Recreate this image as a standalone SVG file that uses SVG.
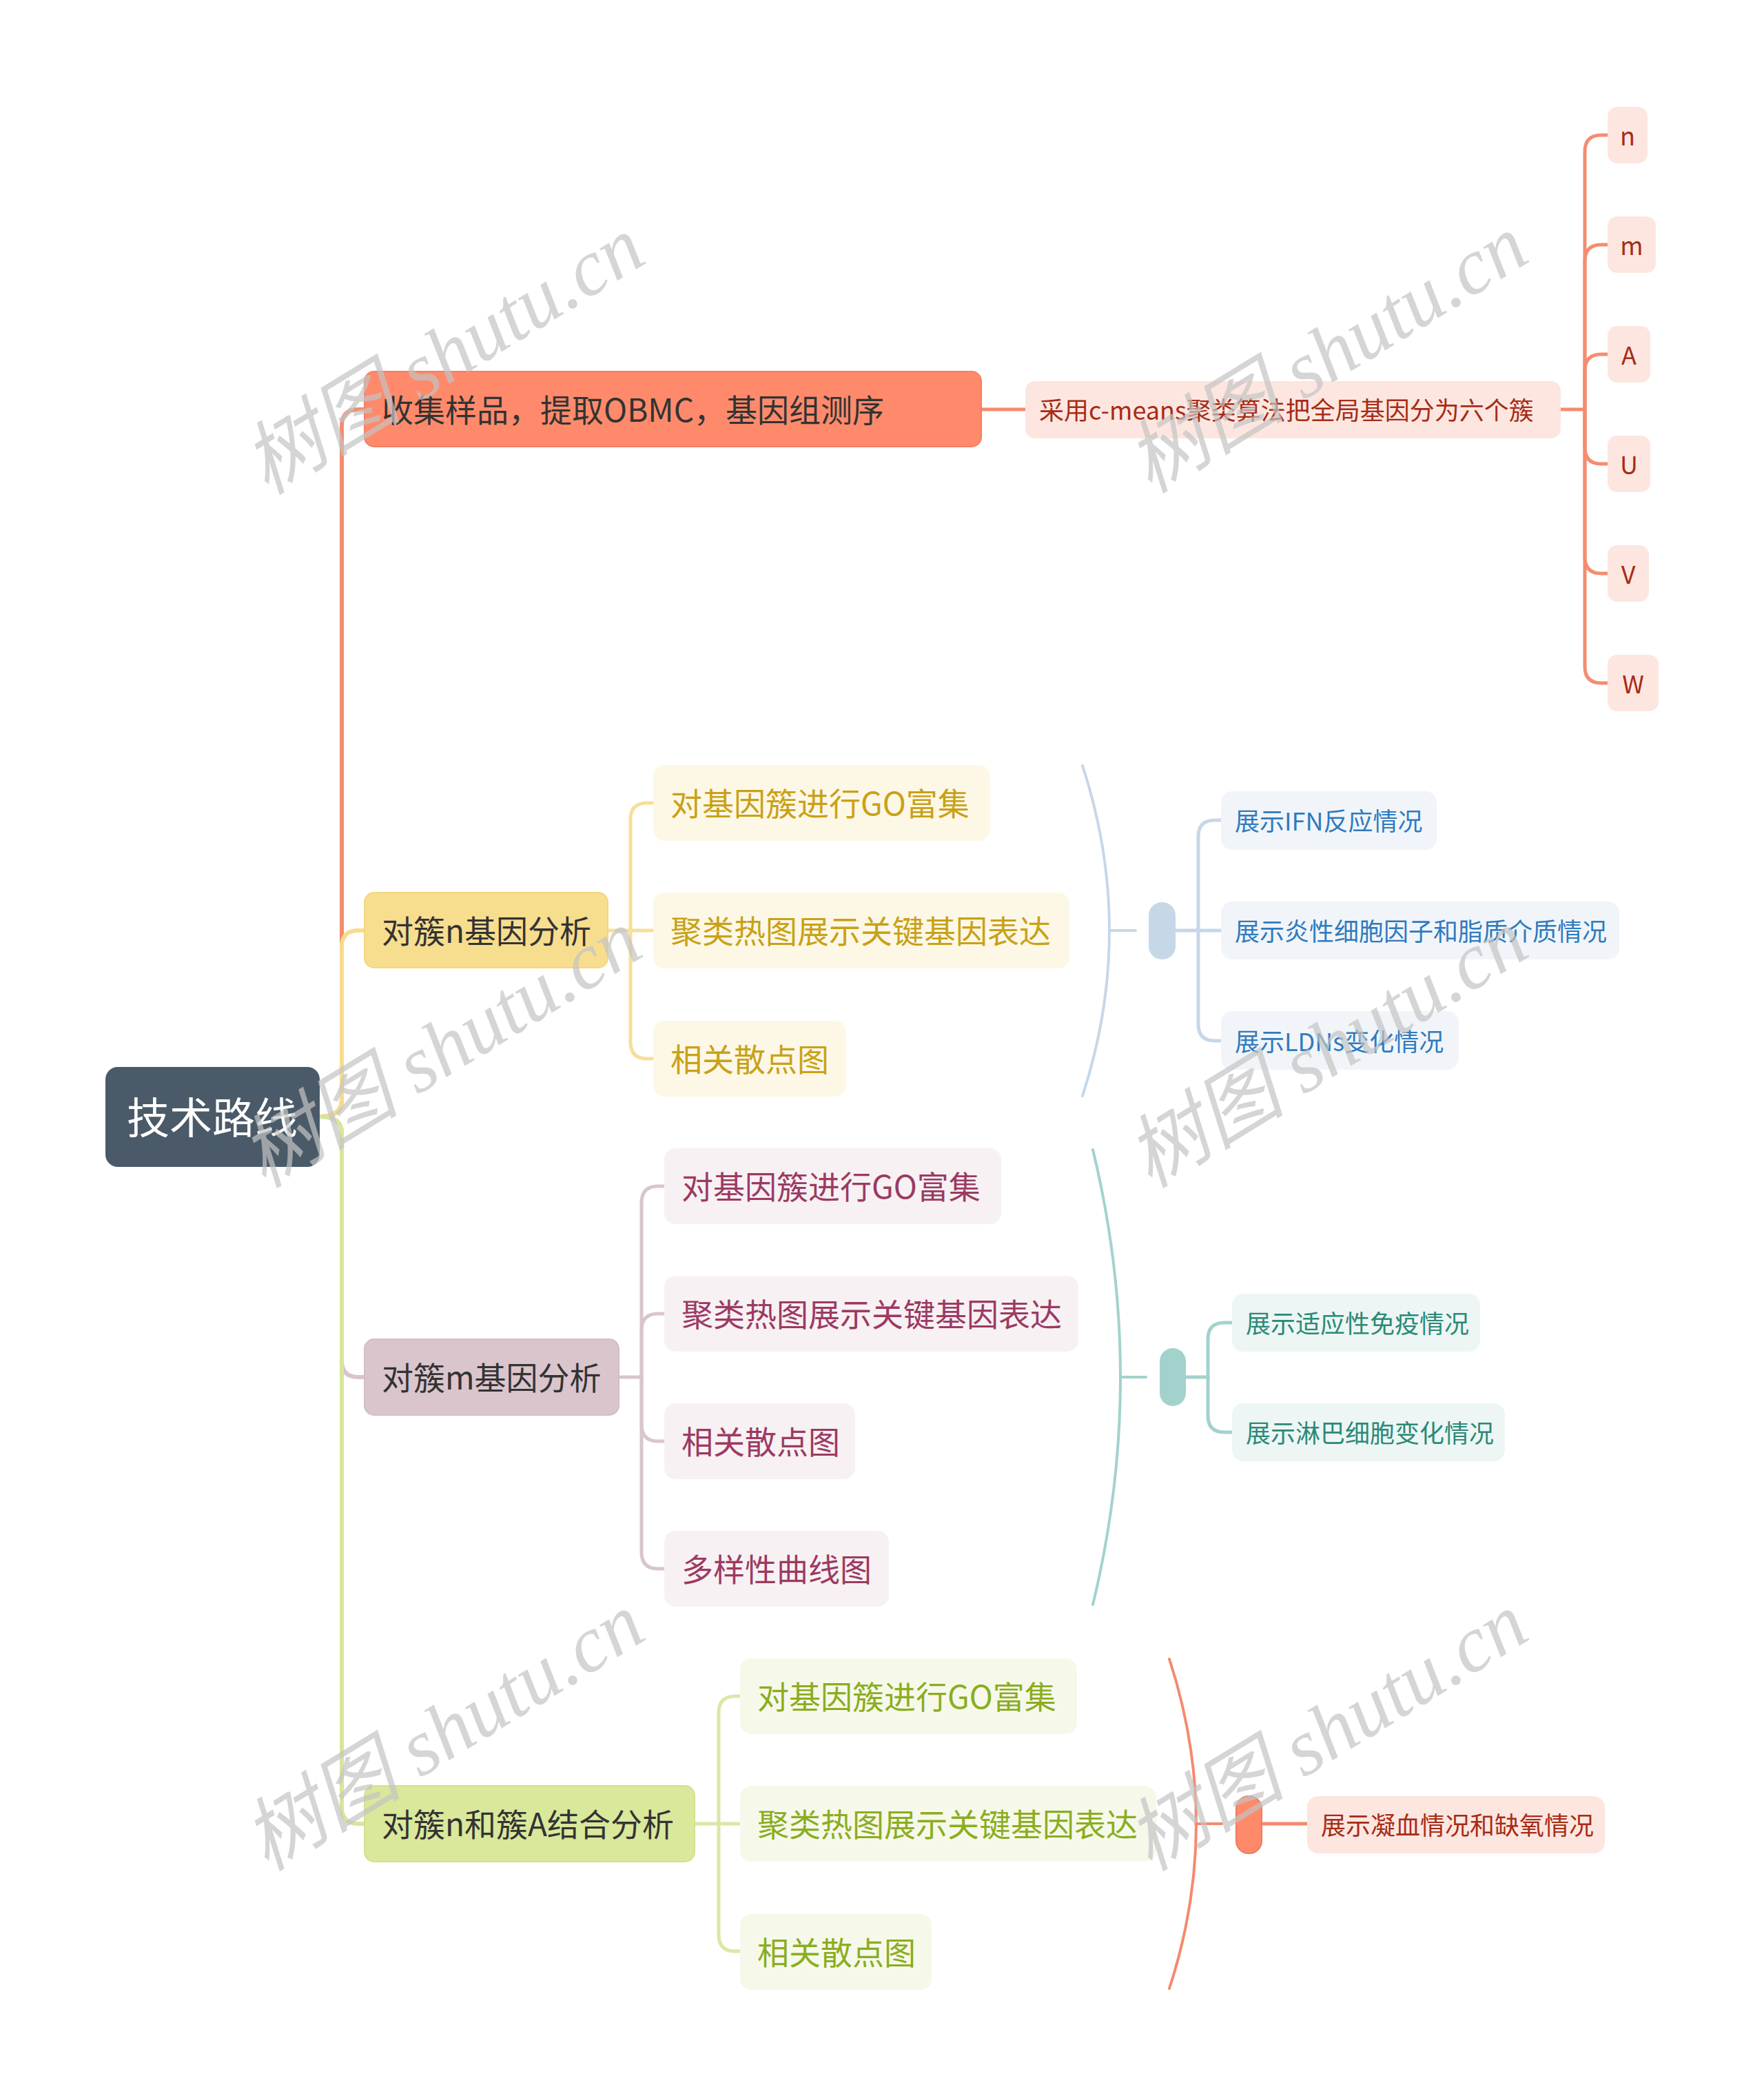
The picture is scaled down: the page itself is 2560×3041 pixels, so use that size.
<svg xmlns="http://www.w3.org/2000/svg" width="2560" height="3041" viewBox="0 0 2560 3041">
<style>
text{font-family:"Noto Sans CJK SC","Noto Sans",sans-serif;}
.l1{font-size:46px;fill:#333333;dominant-baseline:central;}
.l2{font-size:46px;dominant-baseline:central;}
.l3{font-size:36px;dominant-baseline:central;}
.c{fill:none;stroke-linecap:round;stroke-linejoin:round;}
.wm{font-family:"Liberation Serif","Noto Sans CJK SC",serif;font-style:italic;font-size:116px;fill:#c4c4c4;opacity:0.7;text-anchor:middle;dominant-baseline:central;}
</style>
<rect x="0" y="0" width="2560" height="3041" fill="#ffffff"/>

<g id="connectors">
  <path class="c" stroke="#f58c6f" stroke-width="6" d="M464 1620 Q496 1620 496 1596 V618 Q496 594 520 594 H529"/>
  <path class="c" stroke="#f7dc8e" stroke-width="6" d="M464 1620 Q496 1620 496 1596 V1374 Q496 1350 520 1350 H529"/>
  <path class="c" stroke="#d9c4cc" stroke-width="6" d="M464 1620 Q496 1620 496 1644 V1974 Q496 1998 520 1998 H529"/>
  <path class="c" stroke="#d6e69a" stroke-width="6" d="M464 1620 Q496 1620 496 1644 V2622 Q496 2646 520 2646 H529"/>
  <g stroke="#f58c6f" stroke-width="5" class="c">
    <path d="M1424 594 H1488"/>
    <path d="M2265 594 H2300"/>
    <path d="M2300 594 V220 Q2300 196 2324 196 H2333"/>
    <path d="M2300 594 V379 Q2300 355 2324 355 H2333"/>
    <path d="M2300 594 V538 Q2300 514 2324 514 H2333"/>
    <path d="M2300 594 V649 Q2300 673 2324 673 H2333"/>
    <path d="M2300 594 V808 Q2300 832 2324 832 H2333"/>
    <path d="M2300 594 V967 Q2300 991 2324 991 H2333"/>
  </g>
  <g stroke="#f6df96" stroke-width="5" class="c">
    <path d="M882 1350 H948"/>
    <path d="M915 1350 V1189 Q915 1165 939 1165 H948"/>
    <path d="M915 1350 V1512 Q915 1536 939 1536 H948"/>
  </g>
  <g stroke="#d8c5cd" stroke-width="5" class="c">
    <path d="M898 1998 H931"/>
    <path d="M931 1998 V1745 Q931 1721 955 1721 H964"/>
    <path d="M931 1998 V1930 Q931 1906 955 1906 H964"/>
    <path d="M931 1998 V2067 Q931 2091 955 2091 H964"/>
    <path d="M931 1998 V2252 Q931 2276 955 2276 H964"/>
  </g>
  <g stroke="#d9e8a4" stroke-width="5" class="c">
    <path d="M1008 2646 H1074"/>
    <path d="M1043 2646 V2485 Q1043 2461 1067 2461 H1074"/>
    <path d="M1043 2646 V2807 Q1043 2831 1067 2831 H1074"/>
  </g>
  <g stroke="#c6d7e8" stroke-width="4" class="c">
    <path d="M1571 1111 Q1649 1350 1571 1590"/>
    <path d="M1610 1350 H1648"/>
    <path d="M1706 1350 H1772" stroke-width="5"/>
    <path d="M1739 1350 V1214 Q1739 1190 1763 1190 H1772" stroke-width="5"/>
    <path d="M1739 1350 V1486 Q1739 1510 1763 1510 H1772" stroke-width="5"/>
  </g>
  <g stroke="#a3d2cc" stroke-width="4" class="c">
    <path d="M1586 1668 Q1666 1998 1586 2328"/>
    <path d="M1627 1998 H1663"/>
    <path d="M1721 1998 H1753" stroke-width="5"/>
    <path d="M1753 1998 V1943 Q1753 1919 1777 1919 H1788" stroke-width="5"/>
    <path d="M1753 1998 V2054 Q1753 2078 1777 2078 H1788" stroke-width="5"/>
  </g>
  <g stroke="#f58a6e" stroke-width="4" class="c">
    <path d="M1697 2407 Q1775 2646 1697 2885"/>
    <path d="M1735 2646 H1773"/>
    <path d="M1831 2646 H1897" stroke-width="5"/>
  </g>
</g>

<g id="root">
  <rect x="153" y="1548" width="311" height="145" rx="18" fill="#4a5a68"/>
  <text x="308" y="1618" font-size="62" fill="#ffffff" text-anchor="middle" dominant-baseline="central">技术路线</text>
</g>

<g id="n1">
  <rect x="529" y="539" width="895" height="109" rx="14" fill="#fe8a6b" stroke="#f47e62" stroke-width="2"/>
  <text class="l1" x="554" y="592" fill="#3a2a22">收集样品，提取OBMC，基因组测序</text>
</g>
<g id="n1c">
  <rect x="1488" y="553" width="777" height="83" rx="14" fill="#fde6e0"/>
  <text class="l3" x="1508" y="593" fill="#a62c16">采用c-means聚类算法把全局基因分为六个簇</text>
</g>
<g id="leaf-n"><rect x="2333" y="155" width="58" height="82" rx="14" fill="#fde6e0"/><text class="l3" x="2362" y="195" text-anchor="middle" fill="#a62c16">n</text></g>
<g id="leaf-m"><rect x="2333" y="314" width="70" height="82" rx="14" fill="#fde6e0"/><text class="l3" x="2368" y="354" text-anchor="middle" fill="#a62c16">m</text></g>
<g id="leaf-A"><rect x="2333" y="473" width="62" height="82" rx="14" fill="#fde6e0"/><text class="l3" x="2364" y="513" text-anchor="middle" fill="#a62c16">A</text></g>
<g id="leaf-U"><rect x="2333" y="632" width="62" height="82" rx="14" fill="#fde6e0"/><text class="l3" x="2364" y="672" text-anchor="middle" fill="#a62c16">U</text></g>
<g id="leaf-V"><rect x="2333" y="791" width="60" height="82" rx="14" fill="#fde6e0"/><text class="l3" x="2363" y="831" text-anchor="middle" fill="#a62c16">V</text></g>
<g id="leaf-W"><rect x="2333" y="950" width="74" height="82" rx="14" fill="#fde6e0"/><text class="l3" x="2370" y="990" text-anchor="middle" fill="#a62c16">W</text></g>

<g id="n2">
  <rect x="529" y="1295" width="353" height="109" rx="14" fill="#f7dd8e" stroke="#f2d683" stroke-width="2"/>
  <text class="l1" x="554" y="1348">对簇n基因分析</text>
</g>
<g id="n2a"><rect x="948" y="1110" width="489" height="110" rx="16" fill="#fdf8e6"/><text class="l2" x="973" y="1163" fill="#c9a118">对基因簇进行GO富集</text></g>
<g id="n2b"><rect x="948" y="1295" width="604" height="110" rx="16" fill="#fdf8e6"/><text class="l2" x="973" y="1348" fill="#c9a118">聚类热图展示关键基因表达</text></g>
<g id="n2c"><rect x="948" y="1481" width="280" height="110" rx="16" fill="#fdf8e6"/><text class="l2" x="973" y="1534" fill="#c9a118">相关散点图</text></g>
<g id="s2pill"><rect x="1667" y="1309" width="39" height="83" rx="19" fill="#c6d7e8"/></g>
<g id="s2a"><rect x="1772" y="1148" width="313" height="85" rx="16" fill="#f1f5f9"/><text class="l3" x="1792" y="1189" fill="#2f7bbf">展示IFN反应情况</text></g>
<g id="s2b"><rect x="1772" y="1308" width="578" height="84" rx="16" fill="#f1f5f9"/><text class="l3" x="1792" y="1349" fill="#2f7bbf">展示炎性细胞因子和脂质介质情况</text></g>
<g id="s2c"><rect x="1772" y="1467" width="345" height="85" rx="16" fill="#f1f5f9"/><text class="l3" x="1792" y="1509" fill="#2f7bbf">展示LDNs变化情况</text></g>

<g id="n3">
  <rect x="529" y="1943" width="369" height="110" rx="14" fill="#dac5cd" stroke="#d3bdc6" stroke-width="2"/>
  <text class="l1" x="554" y="1996">对簇m基因分析</text>
</g>
<g id="n3a"><rect x="964" y="1666" width="489" height="110" rx="16" fill="#f7f1f3"/><text class="l2" x="989" y="1719" fill="#9c3a63">对基因簇进行GO富集</text></g>
<g id="n3b"><rect x="964" y="1851" width="601" height="110" rx="16" fill="#f7f1f3"/><text class="l2" x="989" y="1904" fill="#9c3a63">聚类热图展示关键基因表达</text></g>
<g id="n3c"><rect x="964" y="2036" width="277" height="110" rx="16" fill="#f7f1f3"/><text class="l2" x="989" y="2089" fill="#9c3a63">相关散点图</text></g>
<g id="n3d"><rect x="964" y="2221" width="326" height="110" rx="16" fill="#f7f1f3"/><text class="l2" x="989" y="2274" fill="#9c3a63">多样性曲线图</text></g>
<g id="s3pill"><rect x="1683" y="1956" width="38" height="84" rx="19" fill="#a3d2cc"/></g>
<g id="s3a"><rect x="1788" y="1877" width="360" height="84" rx="16" fill="#edf6f4"/><text class="l3" x="1808" y="1918" fill="#2b8a78">展示适应性免疫情况</text></g>
<g id="s3b"><rect x="1788" y="2036" width="396" height="84" rx="16" fill="#edf6f4"/><text class="l3" x="1808" y="2077" fill="#2b8a78">展示淋巴细胞变化情况</text></g>

<g id="n4">
  <rect x="529" y="2591" width="479" height="110" rx="14" fill="#d9e89b" stroke="#d1e191" stroke-width="2"/>
  <text class="l1" x="554" y="2644">对簇n和簇A结合分析</text>
</g>
<g id="n4a"><rect x="1074" y="2406" width="489" height="110" rx="16" fill="#f6f9ea"/><text class="l2" x="1099" y="2459" fill="#8bad1f">对基因簇进行GO富集</text></g>
<g id="n4b"><rect x="1074" y="2591" width="604" height="110" rx="16" fill="#f6f9ea"/><text class="l2" x="1099" y="2644" fill="#8bad1f">聚类热图展示关键基因表达</text></g>
<g id="n4c"><rect x="1074" y="2777" width="278" height="110" rx="16" fill="#f6f9ea"/><text class="l2" x="1099" y="2830" fill="#8bad1f">相关散点图</text></g>
<g id="s4pill"><rect x="1794" y="2606" width="37" height="83" rx="18" fill="#fe8a6b" stroke="#ef7b5e" stroke-width="2"/></g>
<g id="s4a"><rect x="1897" y="2606" width="432" height="83" rx="16" fill="#fde6e0"/><text class="l3" x="1917" y="2646" fill="#a62c16">展示凝血情况和缺氧情况</text></g>

<g id="watermarks">
  <text class="wm" transform="translate(644 516) rotate(-31.5)">树图 shutu.cn</text>
  <text class="wm" transform="translate(1926 514) rotate(-31.5)">树图 shutu.cn</text>
  <text class="wm" transform="translate(640 1522) rotate(-31.5)">树图 shutu.cn</text>
  <text class="wm" transform="translate(1926 1522) rotate(-31.5)">树图 shutu.cn</text>
  <text class="wm" transform="translate(644 2513) rotate(-31.5)">树图 shutu.cn</text>
  <text class="wm" transform="translate(1926 2513) rotate(-31.5)">树图 shutu.cn</text>
</g>
</svg>
